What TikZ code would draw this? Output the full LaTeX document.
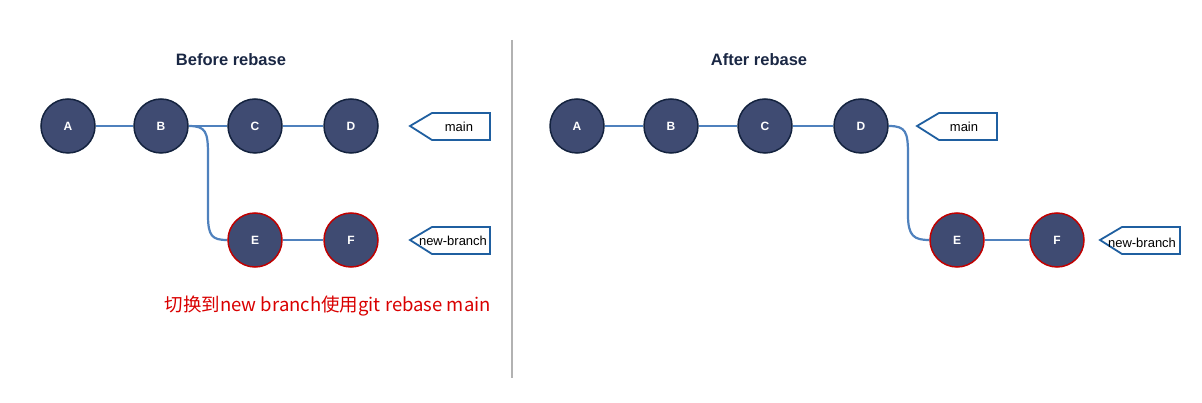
\documentclass[tikz,border=0pt]{standalone}
\usepackage{fontspec}
\usetikzlibrary{backgrounds}
\setmainfont{Liberation Sans}
\newfontfamily\cjk{Noto Sans CJK SC}
\begin{document}
\begin{tikzpicture}[x=1pt,y=-1pt,
  commit/.style={circle,minimum size=54pt,inner sep=0pt,fill=myfill,draw=mynavy,line width=1.5pt,text=white,font=\bfseries\fontsize{12}{14}\selectfont},
  red commit/.style={commit,draw=myred},
  edge/.style={draw=myblue,line width=2.2pt},
  flag/.style={draw=myblue2,line width=1.8pt,fill=white},
  flagtext/.style={font=\fontsize{13}{15}\selectfont,inner sep=0pt},
  title/.style={font=\bfseries\fontsize{16.5}{19}\selectfont,text=mytitle}]
\definecolor{myfill}{HTML}{3F4B72}
\definecolor{mynavy}{HTML}{14233F}
\definecolor{myred}{HTML}{C00000}
\definecolor{myblue}{HTML}{4F81BD}
\definecolor{myblue2}{HTML}{1F5FA0}
\definecolor{mytitle}{HTML}{1A2744}
\useasboundingbox (0,0) rectangle (1202,403);
\draw[gray!60,line width=2pt] (512,40) -- (512,378);
\node[title] (t1) at (231,60) {Before rebase};
\node[title] (t2) at (759,60) {After rebase};
% left
\node[commit] (A) at (68,126) {A};
\node[commit] (B) at (161,126) {B};
\node[commit] (C) at (255,126) {C};
\node[commit] (D) at (351,126) {D};
\node[red commit] (E) at (255,240) {E};
\node[red commit] (F) at (351,240) {F};
% right
\node[commit] (A2) at (577,126) {A};
\node[commit] (B2) at (671,126) {B};
\node[commit] (C2) at (765,126) {C};
\node[commit] (D2) at (861,126) {D};
\node[red commit] (E2) at (957,240) {E};
\node[red commit] (F2) at (1057,240) {F};
\begin{scope}[on background layer]
\draw[edge] (A) -- (B); \draw[edge] (B) -- (C); \draw[edge] (C) -- (D); \draw[edge] (E) -- (F);
\draw[edge] (B.east) .. controls (206,126) and (208,132) .. (208,155) -- (208,215) .. controls (208,236) and (212,240) .. (E.west);
\draw[edge] (A2) -- (B2); \draw[edge] (B2) -- (C2); \draw[edge] (C2) -- (D2); \draw[edge] (E2) -- (F2);
\draw[edge] (D2.east) .. controls (906,126) and (908,132) .. (908,155) -- (908,215) .. controls (908,236) and (914,240) .. (E2.west);
\end{scope}
\draw[flag] (410,126) -- (432,113) -- (490,113) -- (490,140) -- (432,140) -- cycle;
\node[flagtext] (m1) at (459,127) {main};
\draw[flag] (410,240) -- (432,227) -- (490,227) -- (490,254) -- (432,254) -- cycle;
\node[flagtext] (n1) at (453,241) {new-branch};
\node[anchor=east,text=red!85!black,font=\cjk\fontsize{18.5}{20}\selectfont,inner sep=0pt] (cmd) at (491,306) {切换到new branch使用git rebase main};
\draw[flag] (917,126) -- (939,113) -- (997,113) -- (997,140) -- (939,140) -- cycle;
\node[flagtext] (m2) at (964,127) {main};
\draw[flag] (1100,240) -- (1122,227) -- (1180,227) -- (1180,254) -- (1122,254) -- cycle;
\node[flagtext] (n2) at (1142,243) {new-branch};
\end{tikzpicture}
\end{document}
